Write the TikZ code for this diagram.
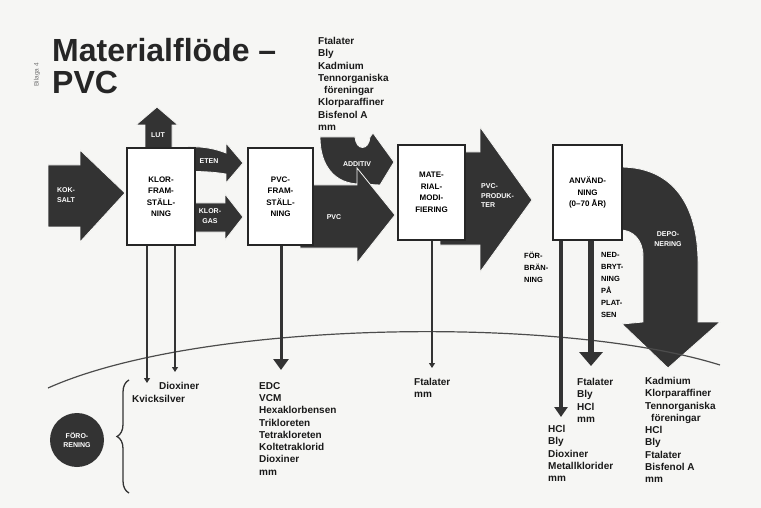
\documentclass[tikz,border=0pt]{standalone}
\usepackage{graphicx}
\usepackage{fontspec}
\setmainfont{Liberation Sans}
\usetikzlibrary{arrows.meta,decorations.pathreplacing}
\definecolor{bg}{rgb}{0.965,0.965,0.958}
\definecolor{dk}{rgb}{0.2,0.2,0.2}
\tikzset{
  flow/.style={fill=dk, draw=bg, line width=0.8pt},
  procbox/.style={draw=black!85, line width=1.3pt, fill=white, inner sep=0pt, align=center,
    font=\bfseries\fontsize{8}{11.5}\selectfont},
  arrtext/.style={text=white, align=center, inner sep=0pt, font=\bfseries\fontsize{7}{9.5}\selectfont},
  listtext/.style={align=left, anchor=north west, inner sep=0pt, text=black!90,
    font=\bfseries\fontsize{10}{12.3}\selectfont},
  sidetext/.style={align=left, anchor=north west, inner sep=0pt,
    font=\bfseries\fontsize{7.5}{12}\selectfont},
  thinarr/.style={draw=dk, line width=1.1pt, -{Triangle[width=6pt,length=5pt]}},
  midarr/.style={draw=dk, line width=3pt, -{Triangle[width=15pt,length=11pt]}},
  bigarr/.style={draw=dk, line width=5.5pt, -{Triangle[width=23pt,length=14pt]}},
  titletext/.style={anchor=base west, inner sep=0pt, text=black!85, font=\bfseries\fontsize{32}{32}\selectfont},
}
\begin{document}
\begin{tikzpicture}[x=1pt,y=-1pt]
\path[use as bounding box, fill=bg] (0,0) rectangle (761,508);

% title
\node[titletext] (t1) at (52,62) {Materialflöde –};
\node[titletext] (t2) at (52,94) {PVC};
\node[rotate=90, inner sep=0pt, text=black!55, font=\fontsize{6.5}{7}\selectfont] (bil) at (37,75) {Bilaga 4};

% flow arrows
\fill[flow] (48,165) -- (80,165) -- (80,150) -- (125,193) -- (80,242) -- (80,227) -- (48,227) -- cycle;
\fill[flow] (145,150) -- (145,125) -- (136,125) -- (157,107) -- (178,125) -- (172,125) -- (172,150) -- cycle;
\fill[flow] (188,147) .. controls (203,146) and (216,149) .. (226,153) -- (226,143) -- (243,163) -- (226,183) -- (226,174) .. controls (214,172) and (200,171) .. (188,172) -- cycle;
\fill[flow] (190,203) -- (225,203) -- (225,194) -- (243,217) -- (225,240) -- (225,232) -- (190,232) -- cycle;
\fill[flow] (320,137) -- (355,137) .. controls (356,151) and (369,151) .. (370,137) -- (373,133) -- (394,162) -- (380,185) -- (360,184) .. controls (335,184) and (320,166) .. (320,137) -- cycle;
\fill[flow] (300,185) -- (357,185) -- (357,168) -- (395,215) -- (357,263) -- (357,248) -- (300,248) -- cycle;
\fill[flow] (440,152) -- (480,152) -- (480,127) -- (532,200) -- (480,272) -- (480,245) -- (440,245) -- cycle;
\fill[flow] (620,167) .. controls (680,167) and (698,215) .. (698,262) -- (698,322) -- (720,322) -- (668,368) -- (622,324) -- (643,322) -- (643,256) .. controls (643,240) and (633,230) .. (620,230) -- cycle;

% ground line
\coordinate (g0) at (48,388);
\coordinate (g1) at (720,365);
\draw[draw=black!70, line width=1.2pt] (g0) .. controls (200,320) and (560,315) .. (g1);

% process boxes
\node[procbox, minimum width=68pt, minimum height=97pt] (klor) at (161,196.5) {KLOR-\\FRAM-\\STÄLL-\\NING};
\node[procbox, minimum width=65pt, minimum height=97pt] (pvcf) at (280.5,196.5) {PVC-\\FRAM-\\STÄLL-\\NING};
\node[procbox, minimum width=67pt, minimum height=95pt] (mat) at (431.5,192.5) {MATE-\\RIAL-\\MODI-\\FIERING};
\node[procbox, minimum width=69pt, minimum height=95pt] (anv) at (587.5,192.5) {ANVÄND-\\NING\\(0–70 ÅR)};

% arrow labels
\node[arrtext] (lkok) at (66,195) {KOK-\\SALT};
\node[arrtext] (llut) at (158,135) {LUT};
\node[arrtext] (leten) at (209,161) {ETEN};
\node[arrtext] (lklg) at (210,216) {KLOR-\\GAS};
\node[arrtext] (ladd) at (357,164) {ADDITIV};
\node[arrtext] (lpvc) at (334,217) {PVC};
\node[arrtext, align=left, anchor=west] (lprod) at (481,196) {PVC-\\PRODUK-\\TER};
\node[arrtext] (ldep) at (668,239) {DEPO-\\NERING};

% vertical connectors
\coordinate (k1) at (147,383);
\coordinate (k2) at (175,372);
\coordinate (p1) at (281,370);
\coordinate (m1) at (432,368);
\coordinate (a1) at (561,417);
\coordinate (a2) at (591,366);
\draw[thinarr] (k1 |- klor.south) -- (k1);
\draw[thinarr] (k2 |- klor.south) -- (k2);
\draw[midarr] (p1 |- pvcf.south) -- (p1);
\draw[thinarr] (m1 |- mat.south) -- (m1);
\draw[draw=dk, line width=3.5pt, -{Triangle[width=13pt,length=10pt]}] (a1 |- anv.south) -- (a1);
\draw[bigarr] (a2 |- anv.south) -- (a2);

\node[sidetext] (lfor) at (524,252) {FÖR-\\BRÄN-\\NING};
\node[sidetext] (lned) at (601,252) {NED-\\BRYT-\\NING\\PÅ\\PLAT-\\SEN};

% lists
\node[listtext] (ladds) at (318,37) {Ftalater\\Bly\\Kadmium\\Tennorganiska\\\hspace{6pt}föreningar\\Klorparaffiner\\Bisfenol A\\mm};
\node[listtext] (ldiox) at (159,382) {Dioxiner};
\node[listtext] (lkvi) at (132,395) {Kvicksilver};
\node[listtext] (ledc) at (259,382) {EDC\\VCM\\Hexaklorbensen\\Trikloreten\\Tetrakloreten\\Koltetraklorid\\Dioxiner\\mm};
\node[listtext] (lmat) at (414,378) {Ftalater\\mm};
\node[listtext] (lnedl) at (577,378) {Ftalater\\Bly\\HCl\\mm};
\node[listtext] (lforl) at (548,425) {HCl\\Bly\\Dioxiner\\Metallklorider\\mm};
\node[listtext] (ldepl) at (645,377) {Kadmium\\Klorparaffiner\\Tennorganiska\\\hspace{6pt}föreningar\\HCl\\Bly\\Ftalater\\Bisfenol A\\mm};

% pollution
\node[circle, fill=dk, minimum size=54pt, inner sep=0pt, text=white, align=center,
  font=\bfseries\fontsize{7}{9}\selectfont] (foro) at (77,440) {FÖRO-\\RENING};
\coordinate (b0) at (129,493);
\coordinate (b1) at (129,380);
\draw[draw=dk, line width=1.3pt, decorate, decoration={brace, amplitude=12pt}] (b0) -- (b1);
\end{tikzpicture}
\end{document}
